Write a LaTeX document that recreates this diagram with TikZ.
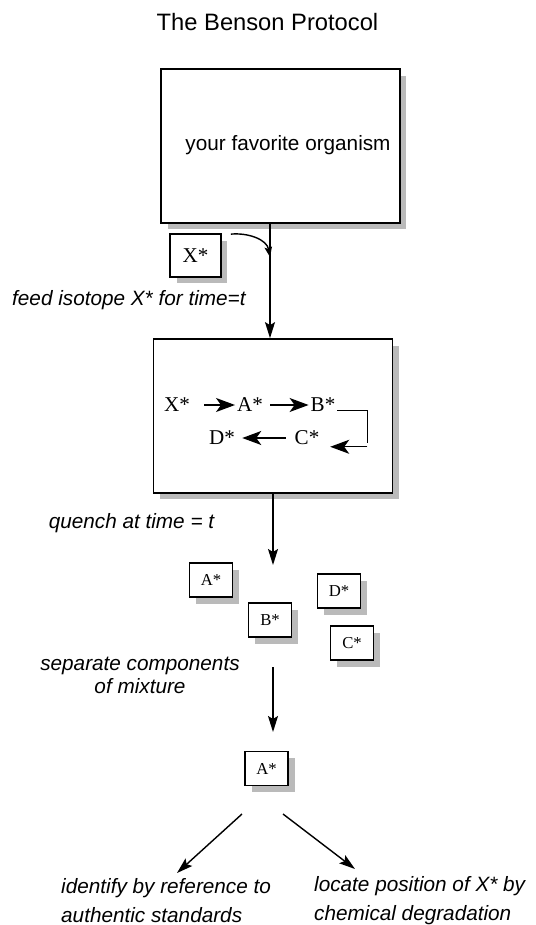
\documentclass[tikz,border=0pt]{standalone}
\usepackage{fontspec}
\setmainfont{Liberation Sans}
\newfontfamily\serifcompound{Liberation Serif}
\usetikzlibrary{arrows.meta,shadows,calc}

\tikzset{
  shadowbox/.style={draw, line width=1pt, fill=white,
    drop shadow={shadow xshift=0.13cm, shadow yshift=-0.13cm, fill=black!27, opacity=1}},
  bigbox/.style={shadowbox, minimum width=4.78cm, minimum height=3.08cm},
  spot/.style={shadowbox, minimum width=0.86cm, minimum height=0.68cm, inner sep=0pt,
    font=\serifcompound\fontsize{9.5}{10}\selectfont},
  compound/.style={inner sep=1pt, font=\serifcompound\fontsize{12}{14}\selectfont},
  flowarrow/.style={line width=0.8pt, -{Stealth[length=0.32cm,width=0.2cm,inset=0.06cm]}},
  chainarrow/.style={line width=0.8pt, -{Stealth[length=0.38cm,width=0.28cm,inset=0.1cm]}},
  note/.style={font=\fontsize{11.8}{13}\selectfont\itshape}
}

\begin{document}
\begin{tikzpicture}[x=0.02cm, y=-0.02cm]

\useasboundingbox (0,0) rectangle (536,925);

\node (title) at (267.5,22) {\fontsize{13.5}{16}\selectfont The Benson Protocol};

% the organism and the labelled precursor
\node[bigbox, font=\fontsize{11.8}{14}\selectfont] (organism) at (280.5,146)
  {\raisebox{0.14cm}{\hspace*{0.3cm}your favorite organism}};
\node[spot, minimum width=1.02cm, minimum height=0.86cm,
  font=\serifcompound\fontsize{12}{14}\selectfont] (isotope) at (195.5,255.5) {X*};

\coordinate (feedin) at (270,257);
\node[bigbox] (pathway) at (273,416) {};

\draw[flowarrow] (organism.south -| feedin) -- (pathway.north -| feedin);
\draw[line width=0.8pt, -{Stealth[length=0.2cm,width=0.15cm,inset=0.04cm]}]
  ($(isotope.north east)+(9,1)$) to[out=5, in=100] (feedin);

\node[note, anchor=west] (feed) at (6,300) {feed isotope X* for time=t};

% labelled intermediates inside the cell
\node[compound] (cx) at (177,405) {X*};
\node[compound] (ca) at (250,405) {A*};
\node[compound] (cb) at (323,405) {B*};
\node[compound] (cc) at (307,438) {C*};
\node[compound] (cd) at (222,438) {D*};

\draw[chainarrow, shorten <=7pt] (cx) -- (ca);
\draw[chainarrow, shorten <=3pt] (ca) -- (cb);
\draw[line width=0.8pt] ([yshift=-3pt]cb.east) -- ++(30,0) coordinate (bend) -- ++(0,33);
\draw[chainarrow] ([yshift=-5pt]cc.east -| bend) -- ([xshift=5pt,yshift=-5pt]cc.east);
\draw[chainarrow, shorten <=4pt, shorten >=3pt] (cc) -- (cd);

% quench
\coordinate (quenched) at (273,565);
\draw[flowarrow] (pathway.south) -- (quenched);
\node[note] (quench) at (131.5,523) {quench at time = t};

% the mixture
\node[spot] (spotA) at (211,580) {A*};
\node[spot] (spotB) at (270,620) {B*};
\node[spot] (spotD) at (339,591) {D*};
\node[spot] (spotC) at (352,643) {C*};

% separation
\node[note, align=center] (separate) at (140,675) {separate components\\of mixture};
\coordinate (sepfrom) at (273,667);
\coordinate (septo) at (273,732);
\draw[flowarrow] (sepfrom) -- (septo);

\node[spot] (pure) at (266.5,768.5) {A*};

% two ways of characterising the product
\node[note, align=left, anchor=west, font=\fontsize{11.8}{16.5}\selectfont\itshape]
  (identify) at (55,901) {identify by reference to\\authentic standards};
\node[note, align=left, anchor=west, font=\fontsize{11.8}{16.5}\selectfont\itshape]
  (degrade) at (308,901) {locate position of X* by\\chemical degradation};

\coordinate (splitL) at (242,814);
\coordinate (splitR) at (283,814);
\draw[flowarrow] (splitL) -- (177,873);
\draw[flowarrow] (splitR) -- (355,869);

\end{tikzpicture}
\end{document}
